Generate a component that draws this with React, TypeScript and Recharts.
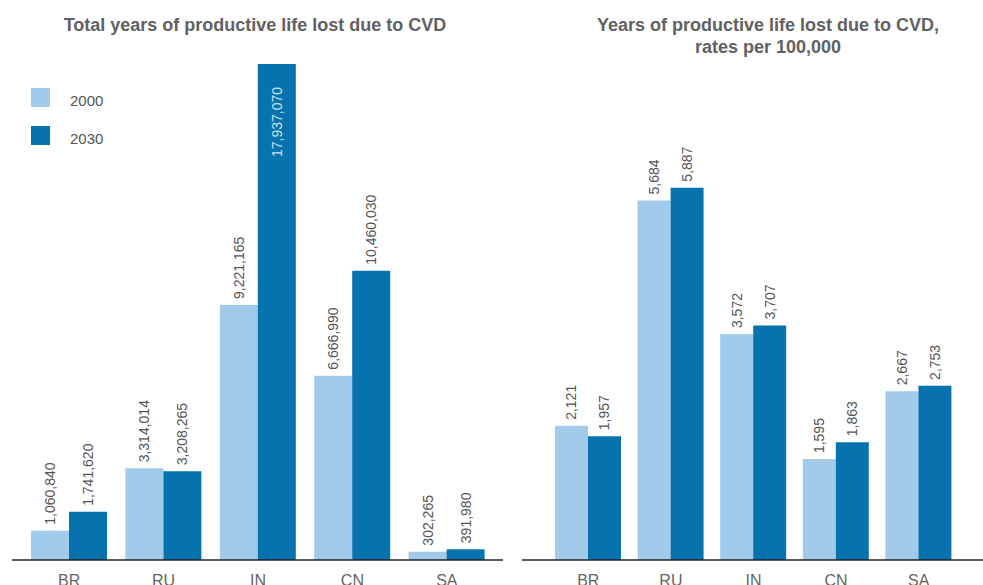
import React from 'react';
import { BarChart, Bar, XAxis, YAxis, LabelList } from 'recharts';

const categories = ['BR', 'RU', 'IN', 'CN', 'SA'];
const total2000 = [1060840, 3314014, 9221165, 6666990, 302265];
const total2030 = [1741620, 3208265, 17937070, 10460030, 391980];
const rate2000 = [2121, 5684, 3572, 1595, 2667];
const rate2030 = [1957, 5887, 3707, 1863, 2753];
const years = ['2000', '2030'];

const LIGHT = '#a2cbeb';
const DARK = '#0672ae';
const FONT = '"Liberation Sans", Arial, sans-serif';

const totalData = categories.map((c, i) => ({ name: c, y2000: total2000[i], y2030: total2030[i] }));
const rateData = categories.map((c, i) => ({ name: c, y2000: rate2000[i], y2030: rate2030[i] }));

// vertical value label; goes inside the bar when there is no room above it
const ValueLabel = (props: any) => {
  const { x, y, width, value } = props;
  const cx = x + width / 2;
  const inside = y < 90;
  const ty = inside ? y + 23 : y - 6;
  return (
    <text
      x={cx}
      y={ty}
      transform={`rotate(-90 ${cx} ${ty})`}
      textAnchor={inside ? 'end' : 'start'}
      dominantBaseline="central"
      fontSize={14}
      fontFamily={FONT}
      fill={inside ? '#cfe2f3' : '#555'}
    >
      {Number(value).toLocaleString('en-US')}
    </text>
  );
};

const titleStyle: React.CSSProperties = {
  position: 'absolute',
  fontFamily: FONT,
  fontSize: 18,
  fontWeight: 'bold',
  color: '#616161',
  textAlign: 'center',
  lineHeight: '22px',
};

const tickStyle = { fill: '#666', fontSize: 16, fontFamily: FONT };

const App = () => {
  return (
    <div style={{ position: 'absolute', left: 0, top: 0, width: 983, height: 585, background: '#fff', overflow: 'hidden' }}>
      <div style={{ ...titleStyle, left: 0, top: 14, width: 510 }}>Total years of productive life lost due to CVD</div>
      <div style={{ ...titleStyle, left: 520, top: 14, width: 496 }}>
        Years of productive life lost due to CVD,
        <br />
        rates per 100,000
      </div>

      {years.map((yr, i) => (
        <div key={yr} style={{ position: 'absolute', left: 31, top: 88 + i * 38, height: 19, display: 'flex', alignItems: 'center' }}>
          <div style={{ width: 19, height: 19, background: i === 0 ? LIGHT : DARK }} />
          <span style={{ marginLeft: 20, marginTop: 6, fontFamily: FONT, fontSize: 15, color: '#555' }}>{yr}</span>
        </div>
      ))}

      <div style={{ position: 'absolute', left: 0, top: 0 }}>
        <BarChart width={505} height={585} data={totalData} margin={{ top: 64, right: 2, bottom: 0, left: 12 }} barGap={0}>
          <XAxis
            dataKey="name"
            height={25}
            padding={{ left: 10, right: 9 }}
            axisLine={{ stroke: '#222', strokeWidth: 1.5 }}
            tickLine={false}
            tickMargin={9}
            tick={tickStyle}
          />
          <YAxis hide domain={[0, 17937070]} />
          <Bar dataKey="y2000" fill={LIGHT} barSize={38} isAnimationActive={false}>
            <LabelList dataKey="y2000" content={ValueLabel} />
          </Bar>
          <Bar dataKey="y2030" fill={DARK} barSize={38} isAnimationActive={false}>
            <LabelList dataKey="y2030" content={ValueLabel} />
          </Bar>
        </BarChart>
      </div>

      <div style={{ position: 'absolute', left: 505, top: 0 }}>
        <BarChart width={478} height={585} data={rateData} margin={{ top: 54, right: 0, bottom: 0, left: 17 }} barGap={0}>
          <XAxis
            dataKey="name"
            height={25}
            padding={{ left: 25, right: 23 }}
            axisLine={{ stroke: '#222', strokeWidth: 1.5 }}
            tickLine={false}
            tickMargin={9}
            tick={tickStyle}
          />
          <YAxis hide domain={[0, 8000]} />
          <Bar dataKey="y2000" fill={LIGHT} barSize={33} isAnimationActive={false}>
            <LabelList dataKey="y2000" content={ValueLabel} />
          </Bar>
          <Bar dataKey="y2030" fill={DARK} barSize={33} isAnimationActive={false}>
            <LabelList dataKey="y2030" content={ValueLabel} />
          </Bar>
        </BarChart>
      </div>
    </div>
  );
};

export default App;
